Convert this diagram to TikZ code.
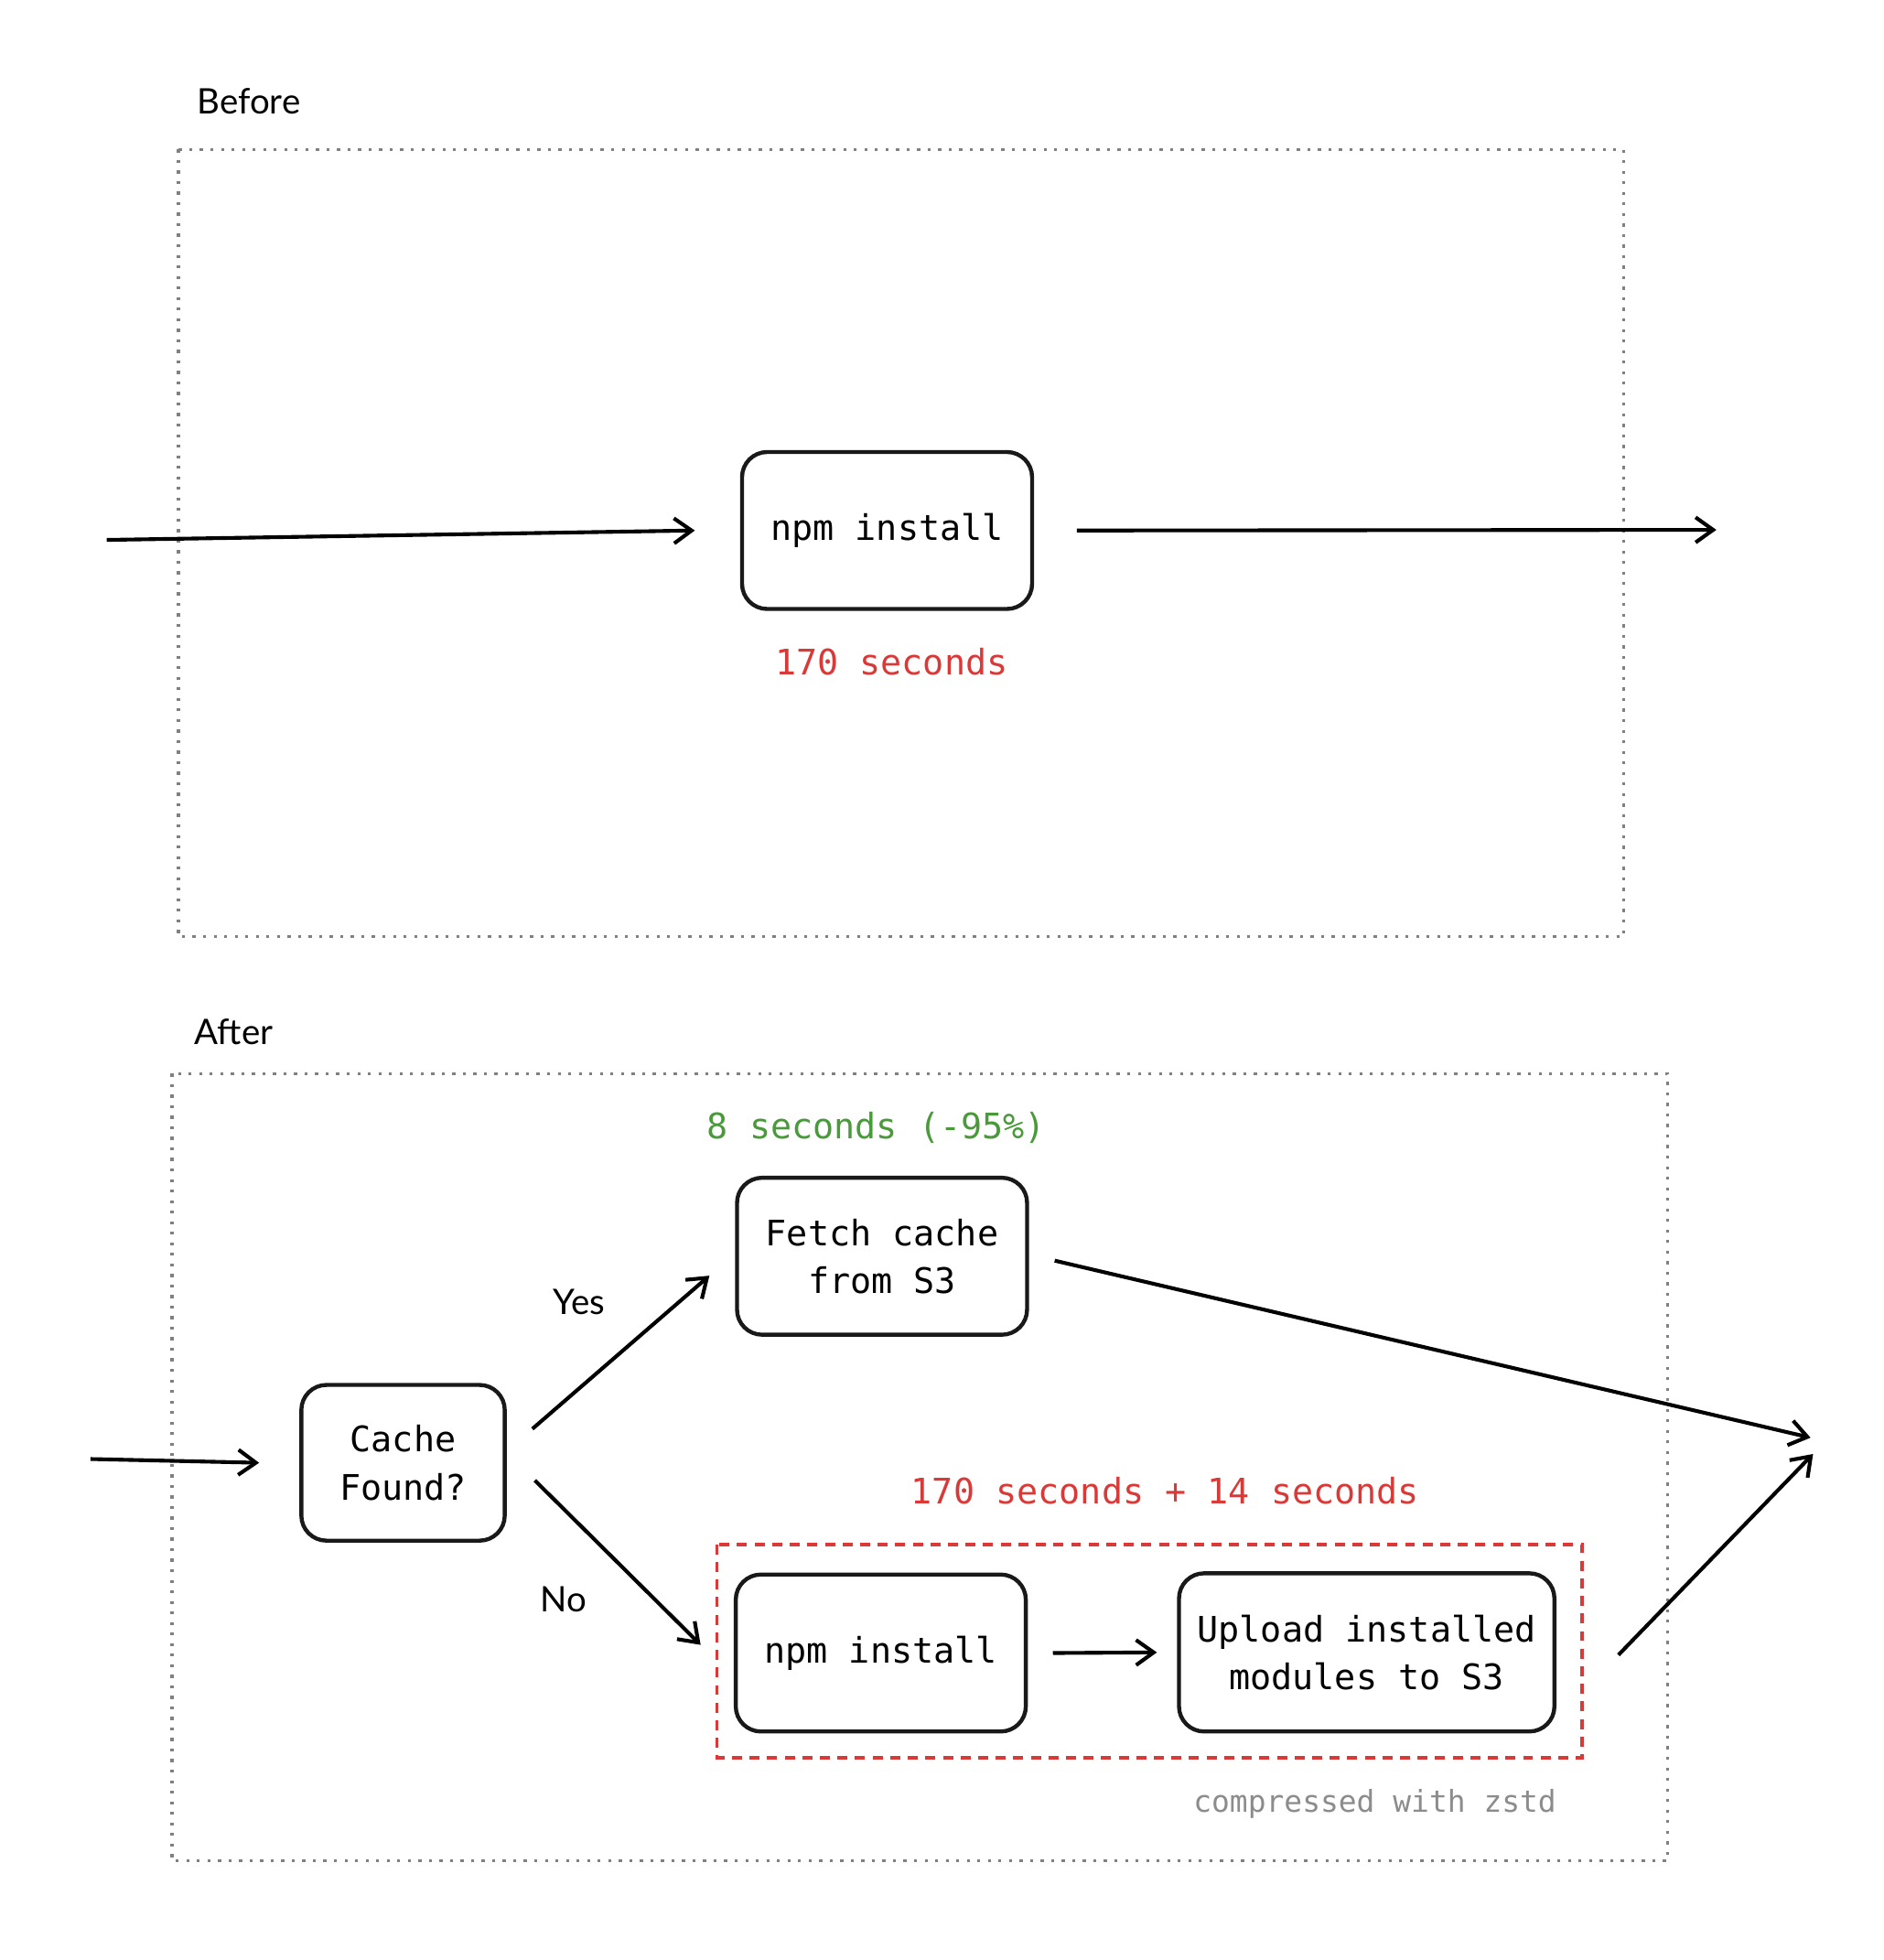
\documentclass[tikz,border=0pt]{standalone}
\usepackage{fontspec}
\setmainfont{Lato}
\setmonofont{DejaVu Sans Mono}
\usetikzlibrary{arrows.meta}
\definecolor{redt}{HTML}{D93A38}
\definecolor{greent}{HTML}{4A9A3C}
\begin{document}
\begin{tikzpicture}[x=0.5pt,y=-0.5pt,
  box/.style={draw=black!90,line width=1.6pt,rounded corners=10pt,inner sep=0pt,align=center,font=\ttfamily\fontsize{14}{19}\selectfont},
  arr/.style={line width=1.5pt,-{Straight Barb[length=7pt,width=10pt]}},
  frame/.style={draw=black!50,line width=1.2pt,dash pattern=on 1.2pt off 3pt},
  lbl/.style={font=\fontsize{14}{17}\selectfont},
  note/.style={font=\ttfamily\fontsize{14}{17}\selectfont}]
\useasboundingbox (0,0) rectangle (1500,1561);
% Before
\node[lbl,anchor=west] (before) at (150,81) {Before};
\draw[frame] (142,119) rectangle (1293,746);
\node[box,minimum width=115.5pt,minimum height=62.5pt] (npm1) at (706.5,422.5) {npm install};
\node[note,text=redt] (t1) at (710,527) {170 seconds};
\coordinate (a0) at (85,430);
\coordinate (a1) at (1367,422);
\draw[arr] (a0) -- ([xshift=-18pt]npm1.west);
\draw[arr] ([xshift=17pt]npm1.east) -- (a1);
% After
\node[lbl,anchor=west] (after) at (148,822) {After};
\draw[frame] (137,855) rectangle (1328,1482);
\node[note,text=greent] (t2) at (698,898) {8 seconds (-95\%)};
\node[box,minimum width=115.5pt,minimum height=62.5pt] (fetch) at (702.5,1000.5) {Fetch cache\\from S3};
\node[box,minimum width=81pt,minimum height=62pt] (cache) at (321,1165) {Cache\\Found?};
\coordinate (b0) at (72,1162);
\draw[arr] (b0) -- ([xshift=-16pt]cache.west);
\node[lbl] (yes) at (461,1037) {Yes};
\node[lbl] (no) at (449,1274) {No};
\node[note,text=redt] (t3) at (928,1187) {170 seconds + 14 seconds};
\draw[draw=redt,line width=1.3pt,dash pattern=on 4pt off 3pt] (571,1230) rectangle (1260,1400);
\node[box,minimum width=115.5pt,minimum height=62.5pt] (npm2) at (701.5,1316.5) {npm install};
\node[box,minimum width=149.5pt,minimum height=63pt] (upload) at (1088.5,1316) {Upload installed\\modules to S3};
\node[note,text=black!45,font=\ttfamily\fontsize{12}{15}\selectfont] (t4) at (1095,1437) {compressed with zstd};
\coordinate (out) at (1444,1150);
\coordinate (c1) at (424,1138);
\coordinate (c2) at (426,1179);
\coordinate (c3) at (840,1004);
\coordinate (c4) at (1289,1318);
\draw[arr] (c1) -- (565,1016);
\draw[arr] (c2) -- (558,1310);
\draw[arr] (c3) -- (1442,1145);
\draw[arr] ([xshift=10pt]npm2.east) -- ([xshift=-8pt]upload.west);
\draw[arr] (c4) -- (1444,1158);
\end{tikzpicture}
\end{document}
